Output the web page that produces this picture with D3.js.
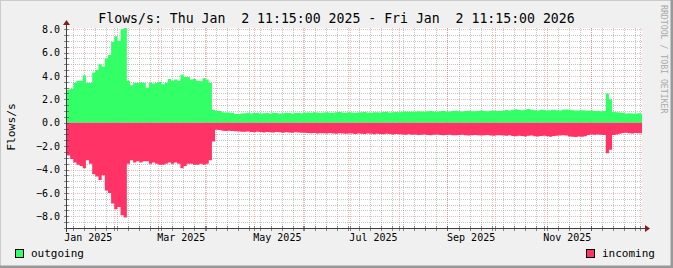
<!DOCTYPE html>
<html>
<head>
<meta charset="utf-8">
<script src="https://cdn.jsdelivr.net/npm/d3@7"></script>
<style>
  body { margin: 0; background: #f0f0f0; }
  svg { display: block; font-family: 'DejaVu Sans Mono', monospace; }
  svg text { white-space: pre; }
</style>
</head>
<body>
<div id="chart"></div>
<script>
// one value every two days, starting Thu Jan 2 11:15 2025
const stepDays = 2

const outgoing = [
  2.85, 2.9, 3.4, 3.6, 3.6, 4.05, 3.4, 3.4, 4.3, 4.5,
  5.0, 4.8, 5.5, 5.8, 6.9, 7.4, 7.0, 8.0, 8.1, 3.6,
  3.2, 3.4, 3.4, 3.45, 3.4, 3.0, 3.4, 3.35, 3.4, 3.5,
  3.3, 3.4, 3.75, 3.6, 3.7, 3.6, 4.1, 3.9, 3.9, 3.7,
  3.75, 3.6, 3.55, 3.8, 3.7, 3.4, 1.1,
  1.0, 1.0, 0.9, 0.88, 0.88, 0.85, 0.75, 0.74, 0.8, 0.82,
  0.85, 0.8, 0.83, 0.86, 0.8, 0.82, 0.84, 0.8, 0.85, 0.83,
  0.8, 0.82, 0.86, 0.84, 0.8, 0.83, 0.85, 0.82,
  0.86, 0.88, 0.85, 0.9, 0.87, 0.84, 0.88, 0.9, 0.86, 0.85,
  0.89, 0.91, 0.87, 0.86, 0.9, 0.88, 0.85, 0.87, 0.9, 0.92,
  0.88, 0.86, 0.9, 0.89, 0.87, 0.91, 0.93, 0.88, 0.9, 0.92, 0.89,
  0.94, 0.96, 0.93, 0.97, 0.95, 0.98, 0.96, 0.94, 0.99, 1.0,
  0.97, 0.95, 0.98, 1.01, 0.97, 0.96, 1.0, 1.02, 0.98, 0.97,
  1.0, 1.03, 0.99, 0.98, 1.01, 1.04, 1.0, 0.99, 1.02, 1.05, 1.01, 1.0,
  1.03, 1.08, 1.05, 1.1, 1.15, 1.08, 1.06, 1.12, 1.18, 1.1,
  1.07, 1.05, 1.1, 1.08, 1.04, 1.06, 1.1, 1.07, 1.05,
  1.12, 1.14, 1.1, 1.06, 1.05, 1.04, 1.06, 1.05, 1.03, 1.05,
  1.0, 1.0, 0.98, 1.0,
  2.5, 2.0,
  0.92, 0.9, 0.88, 0.85, 0.8, 0.82, 0.8, 0.79, 0.81, 0.8,
]

const incoming = [
  -2.8, -3.1, -3.4, -3.6, -3.7, -3.9, -3.2, -3.5, -4.4, -4.6,
  -4.9, -4.5, -5.8, -6.0, -6.9, -7.4, -7.2, -7.9, -8.1, -3.5,
  -3.2, -3.4, -3.3, -3.4, -3.3, -3.3, -3.5, -3.4, -3.5, -3.6,
  -3.6, -3.5, -3.4, -3.5, -3.4, -3.5, -3.9, -3.7, -3.5, -3.5,
  -3.6, -3.6, -3.5, -3.6, -3.5, -3.2, -1.6,
  -0.6, -0.62, -0.68, -0.7, -0.69, -0.7, -0.72, -0.74, -0.76, -0.78,
  -0.75, -0.8, -0.82, -0.78, -0.8, -0.83, -0.79, -0.81, -0.84, -0.8,
  -0.82, -0.85, -0.81, -0.83, -0.86, -0.82, -0.84, -0.85,
  -0.86, -0.88, -0.9, -0.87, -0.92, -0.89, -0.9, -0.93, -0.88, -0.91,
  -0.94, -0.9, -0.92, -0.95, -0.91, -0.93, -0.96, -0.92, -0.94, -0.97,
  -0.93, -0.95, -0.98, -0.94, -0.96, -0.99, -0.95, -0.97, -1.0, -0.96, -0.98,
  -1.0, -1.02, -0.98, -1.03, -1.01, -1.05, -1.02, -1.0, -1.04, -1.06,
  -1.03, -1.01, -1.05, -1.07, -1.04, -1.02, -1.06, -1.08, -1.05, -1.03,
  -1.07, -1.09, -1.06, -1.04, -1.08, -1.1, -1.07, -1.05, -1.09, -1.11, -1.08, -1.06,
  -1.1, -1.12, -1.08, -1.14, -1.16, -1.11, -1.13, -1.17, -1.12, -1.1,
  -1.15, -1.18, -1.13, -1.11, -1.16, -1.19, -1.14, -1.12, -1.1,
  -1.06, -1.1, -1.18, -1.2, -1.22, -1.18, -1.2, -1.15, -1.05, -1.0,
  -1.02, -1.0, -1.03, -1.05,
  -2.6, -2.3,
  -1.05, -1.0, -0.95, -0.88, -0.85, -0.9, -0.92, -0.88, -0.9, -0.9,
]

const yMajorTicks = [-8, -6, -4, -2, 0, 2, 4, 6, 8]
const monthLabels = ['Jan 2025', 'Mar 2025', 'May 2025', 'Jul 2025', 'Sep 2025', 'Nov 2025']

const title = 'Flows/s: Thu Jan  2 11:15:00 2025 - Fri Jan  2 11:15:00 2026'
const yTitle = 'Flows/s'
const watermark = 'RRDTOOL / TOBI OETIKER'

const width = 673
const height = 268
const plotLeft = 67
const plotRight = 642
const plotTop = 28
const plotBottom = 228
const day = 24 * 3600 * 1000
const start = new Date(Date.UTC(2025, 0, 2, 11, 15))
const end = new Date(Date.UTC(2026, 0, 2, 11, 15))

const x = d3.scaleUtc().domain([start, end]).range([plotLeft, plotRight])
const y = d3.scaleLinear().domain([-9.0, 8.1]).range([plotBottom, plotTop])

const svg = d3
  .select('#chart')
  .append('svg')
  .attr('width', width)
  .attr('height', height)

// background and 3d border
svg.append('rect').attr('width', width).attr('height', height).attr('fill', '#f0f0f0')
svg.append('path').attr('d', `M0,${height}V0H${width}`).attr('stroke', '#cbcbcb').attr('stroke-width', 2).attr('fill', 'none')
svg.append('path').attr('d', `M0,${height - 1}H${width - 1}V0`).attr('stroke', '#999999').attr('stroke-width', 3).attr('fill', 'none')

svg.append('rect')
  .attr('x', plotLeft).attr('y', plotTop)
  .attr('width', plotRight - plotLeft).attr('height', plotBottom - plotTop)
  .attr('fill', '#ffffff')

const crisp = v => Math.round(v) + 0.5

// grid
const grid = svg.append('g').attr('stroke-dasharray', '1,1').attr('stroke-width', 1)
const minorColor = 'rgba(150,150,150,0.55)'
const majorColor = 'rgba(240,90,90,0.42)'

d3.range(-9, 8.1, 0.5)
  .filter(v => v > -9 && Math.abs(v % 2) > 0.01)
  .forEach(v => {
    grid.append('line')
      .attr('x1', plotLeft).attr('x2', plotRight + 1)
      .attr('y1', crisp(y(v))).attr('y2', crisp(y(v)))
      .attr('stroke', minorColor)
  })

d3.utcMonday.range(start, end).forEach(t => {
  grid.append('line')
    .attr('x1', crisp(x(t))).attr('x2', crisp(x(t)))
    .attr('y1', plotTop).attr('y2', plotBottom)
    .attr('stroke', minorColor)
})

yMajorTicks.forEach(v => {
  grid.append('line')
    .attr('x1', plotLeft).attr('x2', plotRight + 1)
    .attr('y1', crisp(y(v))).attr('y2', crisp(y(v)))
    .attr('stroke', majorColor)
})

const months = d3.utcMonth.range(start, end)
months.forEach(t => {
  grid.append('line')
    .attr('x1', crisp(x(t))).attr('x2', crisp(x(t)))
    .attr('y1', plotTop).attr('y2', plotBottom)
    .attr('stroke', majorColor)
})

// data
svg.append('clipPath').attr('id', 'plot')
  .append('rect')
  .attr('x', plotLeft).attr('y', plotTop - 5)
  .attr('width', plotRight - plotLeft).attr('height', plotBottom - plotTop + 5)

const toPoints = values => {
  const pts = values.map((v, i) => ({ t: new Date(+start + i * stepDays * day), v }))
  pts.push({ t: new Date(+start + values.length * stepDays * day), v: values[values.length - 1] })
  return pts
}

const area = d3.area()
  .x(d => x(d.t))
  .y0(y(0))
  .y1(d => y(d.v))
  .curve(d3.curveStepAfter)

svg.append('path')
  .datum(toPoints(outgoing))
  .attr('clip-path', 'url(#plot)')
  .attr('fill', '#33ff66')
  .attr('d', area)

svg.append('path')
  .datum(toPoints(incoming))
  .attr('clip-path', 'url(#plot)')
  .attr('fill', '#ff3366')
  .attr('d', area)

// axes
const axisColor = '#404040'
svg.append('line')
  .attr('x1', plotLeft - 1).attr('x2', plotRight + 3)
  .attr('y1', crisp(plotBottom)).attr('y2', crisp(plotBottom))
  .attr('stroke', axisColor)
svg.append('line')
  .attr('x1', crisp(plotLeft - 1)).attr('x2', crisp(plotLeft - 1))
  .attr('y1', plotBottom + 4).attr('y2', plotTop - 3)
  .attr('stroke', axisColor)

// arrows
svg.append('path')
  .attr('d', `M${plotRight + 3},${plotBottom - 3}L${plotRight + 8},${plotBottom + 0.5}L${plotRight + 3},${plotBottom + 4}Z`)
  .attr('fill', '#7f1f1f')
svg.append('path')
  .attr('d', `M${plotLeft - 4},${plotTop - 3}L${plotLeft - 0.5},${plotTop - 8}L${plotLeft + 3},${plotTop - 3}Z`)
  .attr('fill', '#7f1f1f')

// ticks on axes
d3.range(-9, 8.1, 0.5).forEach(v => {
  svg.append('line')
    .attr('x1', plotLeft - 3).attr('x2', plotLeft + 2)
    .attr('y1', crisp(y(v))).attr('y2', crisp(y(v)))
    .attr('stroke', axisColor).attr('stroke-opacity', 0.6)
})
d3.utcMonday.range(start, end).concat(months).forEach(t => {
  svg.append('line')
    .attr('x1', crisp(x(t))).attr('x2', crisp(x(t)))
    .attr('y1', plotBottom - 2).attr('y2', plotBottom + 3)
    .attr('stroke', axisColor).attr('stroke-opacity', 0.6)
})

// y labels
yMajorTicks.forEach(v => {
  svg.append('text')
    .attr('x', plotLeft - 7)
    .attr('y', y(v) + 3.7)
    .attr('text-anchor', 'end')
    .attr('font-size', '10px')
    .attr('fill', '#000')
    .text(d3.format('.1f')(v))
})

// x labels, centred half a month after the tick
d3.utcMonth.range(Date.UTC(2025, 0, 1), end, 2).forEach((t, i) => {
  svg.append('text')
    .attr('x', x(new Date(+t + 15 * day)))
    .attr('y', 240.6)
    .attr('text-anchor', 'middle')
    .attr('font-size', '10px')
    .attr('fill', '#000')
    .text(monthLabels[i])
})

// titles
svg.append('text')
  .attr('x', width / 2)
  .attr('y', 23)
  .attr('text-anchor', 'middle')
  .attr('font-size', '13.2px')
  .text(title)

svg.append('text')
  .attr('transform', 'translate(14.5,127) rotate(-90)')
  .attr('text-anchor', 'middle')
  .attr('font-size', '11.3px')
  .text(yTitle)

svg.append('text')
  .attr('transform', 'translate(661,5) rotate(90)')
  .attr('font-size', '8.2px')
  .attr('fill', '#aaaaaa')
  .text(watermark)

// legend
const legend = [
  { name: 'outgoing', color: '#33ff66', x: 15 },
  { name: 'incoming', color: '#ff3366', x: 586 },
]
legend.forEach(d => {
  svg.append('rect')
    .attr('x', d.x + 0.5).attr('y', 249.5)
    .attr('width', 8).attr('height', 8)
    .attr('fill', d.color)
    .attr('stroke', '#000')
  svg.append('text')
    .attr('x', d.x + 16)
    .attr('y', 256.5)
    .attr('font-size', '11px')
    .text(d.name)
})
</script>
</body>
</html>
